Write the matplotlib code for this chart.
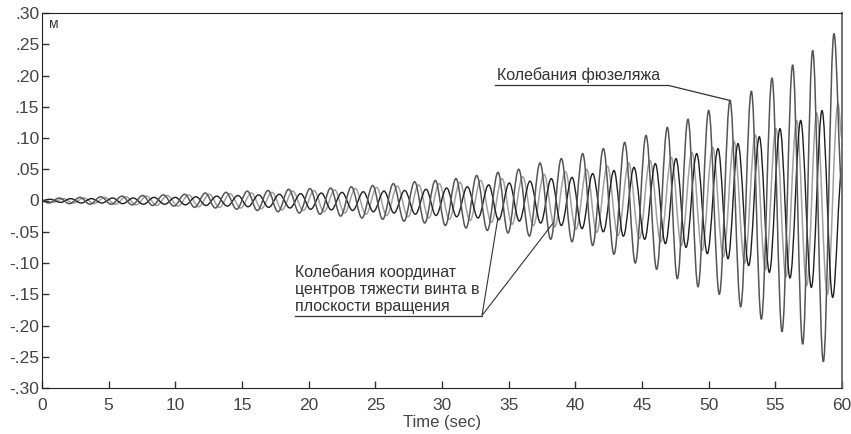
import numpy as np
import matplotlib
matplotlib.use("Agg")
import matplotlib.pyplot as plt
from matplotlib.path import Path
from matplotlib.patches import PathPatch

plt.rcParams['font.family'] = ['Liberation Sans', 'DejaVu Sans']

# ---- data: extrema (time s, displacement m) ----
# fuselage oscillation (dark gray)
fus_t_max = [1.3, 2.85, 4.4, 6.0, 7.55, 9.1, 10.7, 12.25, 13.8, 15.4, 16.95, 18.5, 20.1, 21.65, 23.2, 24.8,
             26.35, 27.95, 29.5, 31.05, 32.6, 34.2, 35.75, 37.35, 38.95, 40.55, 42.1, 43.7, 45.3, 46.9, 48.45,
             50.0, 51.6, 53.2, 54.75, 56.3, 57.8, 59.4]
fus_v_max = [0.004, 0.005, 0.006, 0.007, 0.008, 0.009, 0.010, 0.012, 0.013, 0.015, 0.016, 0.018, 0.019, 0.020,
             0.022, 0.024, 0.027, 0.030, 0.032, 0.035, 0.040, 0.045, 0.050, 0.060, 0.067, 0.075, 0.083, 0.093,
             0.104, 0.117, 0.130, 0.144, 0.160, 0.175, 0.196, 0.217, 0.240, 0.267]
fus_t_min = [0.5, 2.05, 3.6, 5.2, 6.75, 8.3, 9.9, 11.45, 13.0, 14.6, 16.15, 17.7, 19.3, 20.85, 22.4, 24.0,
             25.55, 27.15, 28.7, 30.25, 31.8, 33.4, 34.95, 36.55, 38.15, 39.75, 41.3, 42.9, 44.5, 46.1, 47.65,
             49.2, 50.8, 52.4, 53.95, 55.5, 57.05, 58.6]
fus_v_min = [-0.004, -0.005, -0.006, -0.006, -0.007, -0.008, -0.009, -0.011, -0.012, -0.014, -0.016, -0.018,
             -0.020, -0.022, -0.025, -0.028, -0.030, -0.033, -0.036, -0.040, -0.044, -0.048, -0.052, -0.057,
             -0.062, -0.066, -0.072, -0.086, -0.100, -0.110, -0.125, -0.138, -0.150, -0.170, -0.190, -0.210,
             -0.230, -0.258]
fus_end = [(0.0, 0.0), (60.0, 0.02)]

# rotor CG coordinate, first (black)
r1_t_max = [0.6, 2.15, 3.7, 5.3, 6.85, 8.4, 10.0, 11.55, 13.1, 14.7, 16.25, 17.8, 19.4, 20.95, 22.5, 24.1,
            25.65, 27.2, 28.8, 30.35, 31.9, 33.5, 35.05, 36.6, 38.2, 39.75, 41.3, 42.9, 44.4, 46.0, 47.55,
            49.1, 50.7, 52.2, 53.8, 55.35, 56.9, 58.5]
r1_v_max = [0.002, 0.003, 0.003, 0.004, 0.004, 0.005, 0.005, 0.006, 0.007, 0.008, 0.009, 0.010, 0.011, 0.012,
            0.013, 0.014, 0.015, 0.016, 0.018, 0.020, 0.022, 0.025, 0.028, 0.031, 0.035, 0.037, 0.043, 0.048,
            0.053, 0.059, 0.067, 0.075, 0.083, 0.091, 0.102, 0.115, 0.128, 0.144]
r1_t_min = [1.4, 2.95, 4.5, 6.05, 7.6, 9.2, 10.75, 12.3, 13.9, 15.45, 17.0, 18.6, 20.15, 21.7, 23.3, 24.85,
            26.4, 28.0, 29.55, 31.1, 32.7, 34.25, 35.8, 37.4, 38.95, 40.5, 42.1, 43.6, 45.2, 46.75, 48.3,
            49.9, 51.45, 53.0, 54.55, 56.1, 57.7, 59.3]
r1_v_min = [-0.003, -0.004, -0.004, -0.005, -0.006, -0.006, -0.007, -0.008, -0.009, -0.010, -0.011, -0.012,
            -0.014, -0.015, -0.016, -0.018, -0.020, -0.022, -0.024, -0.026, -0.028, -0.031, -0.033, -0.036,
            -0.040, -0.045, -0.050, -0.057, -0.062, -0.069, -0.075, -0.085, -0.093, -0.104, -0.115, -0.124,
            -0.139, -0.155]
r1_end = [(0.0, 0.0), (60.0, 0.05)]

# rotor CG coordinate, second (light gray)
r2_t_max = [1.6, 3.15, 4.7, 6.3, 7.85, 9.4, 11.0, 12.55, 14.1, 15.7, 17.25, 18.8, 20.4, 21.95, 23.5, 25.1,
            26.65, 28.25, 29.8, 31.35, 32.9, 34.5, 36.05, 37.65, 39.25, 40.85, 42.4, 44.0, 45.6, 47.2, 48.75,
            50.3, 51.9, 53.5, 55.05, 56.6, 58.1, 59.7]
r2_v_max = [0.003, 0.004, 0.005, 0.006, 0.007, 0.008, 0.009, 0.010, 0.011, 0.012, 0.013, 0.015, 0.016, 0.017,
            0.019, 0.021, 0.023, 0.025, 0.027, 0.029, 0.032, 0.035, 0.038, 0.042, 0.046, 0.050, 0.055, 0.060,
            0.064, 0.069, 0.077, 0.085, 0.095, 0.105, 0.115, 0.128, 0.140, 0.155]
r2_t_min = [0.8, 2.35, 3.9, 5.5, 7.05, 8.6, 10.2, 11.75, 13.3, 14.9, 16.45, 18.0, 19.6, 21.15, 22.7, 24.3,
            25.85, 27.45, 29.0, 30.55, 32.1, 33.7, 35.25, 36.85, 38.45, 40.05, 41.6, 43.2, 44.8, 46.4, 47.95,
            49.5, 51.1, 52.7, 54.25, 55.8, 57.35, 58.9]
r2_v_min = [-0.003, -0.004, -0.005, -0.006, -0.007, -0.008, -0.009, -0.010, -0.011, -0.012, -0.013, -0.015,
            -0.016, -0.018, -0.020, -0.022, -0.024, -0.026, -0.028, -0.030, -0.032, -0.035, -0.038, -0.040,
            -0.042, -0.046, -0.051, -0.056, -0.061, -0.066, -0.072, -0.080, -0.090, -0.100, -0.110, -0.122,
            -0.136, -0.150]
r2_end = [(0.0, 0.0), (60.0, 0.10)]

x_ticks = [0, 5, 10, 15, 20, 25, 30, 35, 40, 45, 50, 55, 60]
y_ticks = [-0.30, -0.25, -0.20, -0.15, -0.10, -0.05, 0.0, 0.05, 0.10, 0.15, 0.20, 0.25, 0.30]
y_tick_labels = ['-.30', '-.25', '-.20', '-.15', '-.10', '-.05', '0', '.05', '.10', '.15', '.20', '.25', '.30']

label_fus = 'Колебания фюзеляжа'
label_rotor = 'Колебания координат\nцентров тяжести винта в\nплоскости вращения'


def series(t_max, v_max, t_min, v_min, ends):
    t = np.array(list(t_max) + list(t_min) + [e[0] for e in ends])
    v = np.array(list(v_max) + list(v_min) + [e[1] for e in ends])
    o = np.argsort(t)
    return t[o], v[o]


def wave_path(t, v, k=0.36):
    # smooth curve through the extrema: cubic Bezier segments with flat tangents at each extremum
    verts = [(t[0], v[0])]
    codes = [Path.MOVETO]
    for i in range(len(t) - 1):
        dt = t[i + 1] - t[i]
        verts += [(t[i] + k * dt, v[i]), (t[i + 1] - k * dt, v[i + 1]), (t[i + 1], v[i + 1])]
        codes += [Path.CURVE4] * 3
    return Path(verts, codes)


fig = plt.figure(figsize=(8.51, 4.34), dpi=100)
ax = fig.add_axes([42 / 851, 1 - 388 / 434, 800 / 851, 375 / 434])

for (args, col, lw) in [((r2_t_max, r2_v_max, r2_t_min, r2_v_min, r2_end), '#a0a0a0', 1.1),
                        ((r1_t_max, r1_v_max, r1_t_min, r1_v_min, r1_end), '#1e1e1e', 1.0),
                        ((fus_t_max, fus_v_max, fus_t_min, fus_v_min, fus_end), '#555555', 1.1)]:
    tt, vv = series(*args)
    ax.add_patch(PathPatch(wave_path(tt, vv), facecolor='none', edgecolor=col, lw=lw, clip_on=True))

ax.set_xlim(0, 60)
ax.set_ylim(-0.30, 0.30)
ax.set_xticks(x_ticks)
ax.set_xticklabels([str(v) for v in x_ticks])
ax.set_yticks(y_ticks)
ax.set_yticklabels(y_tick_labels)
ax.tick_params(direction='in', length=5, width=1, labelsize=12.5, labelcolor='#444444', color='#333333')
ax.tick_params(axis='x', pad=7)
ax.tick_params(axis='y', pad=2)
for s in ['left', 'bottom', 'top']:
    ax.spines[s].set_color('#222222')
ax.spines['right'].set_color('#666666')
ax.spines['right'].set_linewidth(1.3)
ax.set_xlabel('Time (sec)', fontsize=12, color='#444444', labelpad=2)

ax.text(0.5, 0.283, 'м', fontsize=10, color='#333333', va='center', ha='left')

# fuselage annotation (underlined text + leader line)
ax.text(34.1, 0.188, label_fus, fontsize=11.5, color='#333333', ha='left', va='bottom')
ax.plot([34.0, 47.0, 51.6], [0.184, 0.184, 0.160], color='#333333', lw=0.9)

# rotor annotation
ax.text(19.0, -0.181, label_rotor, fontsize=11.5, color='#333333', ha='left', va='bottom', linespacing=1.15)
ax.plot([19.0, 33.0], [-0.184, -0.184], color='#333333', lw=0.9)
ax.plot([34.2, 33.0, 38.3], [-0.027, -0.184, -0.037], color='#333333', lw=0.8)

fig.savefig('out.png', dpi=100)
